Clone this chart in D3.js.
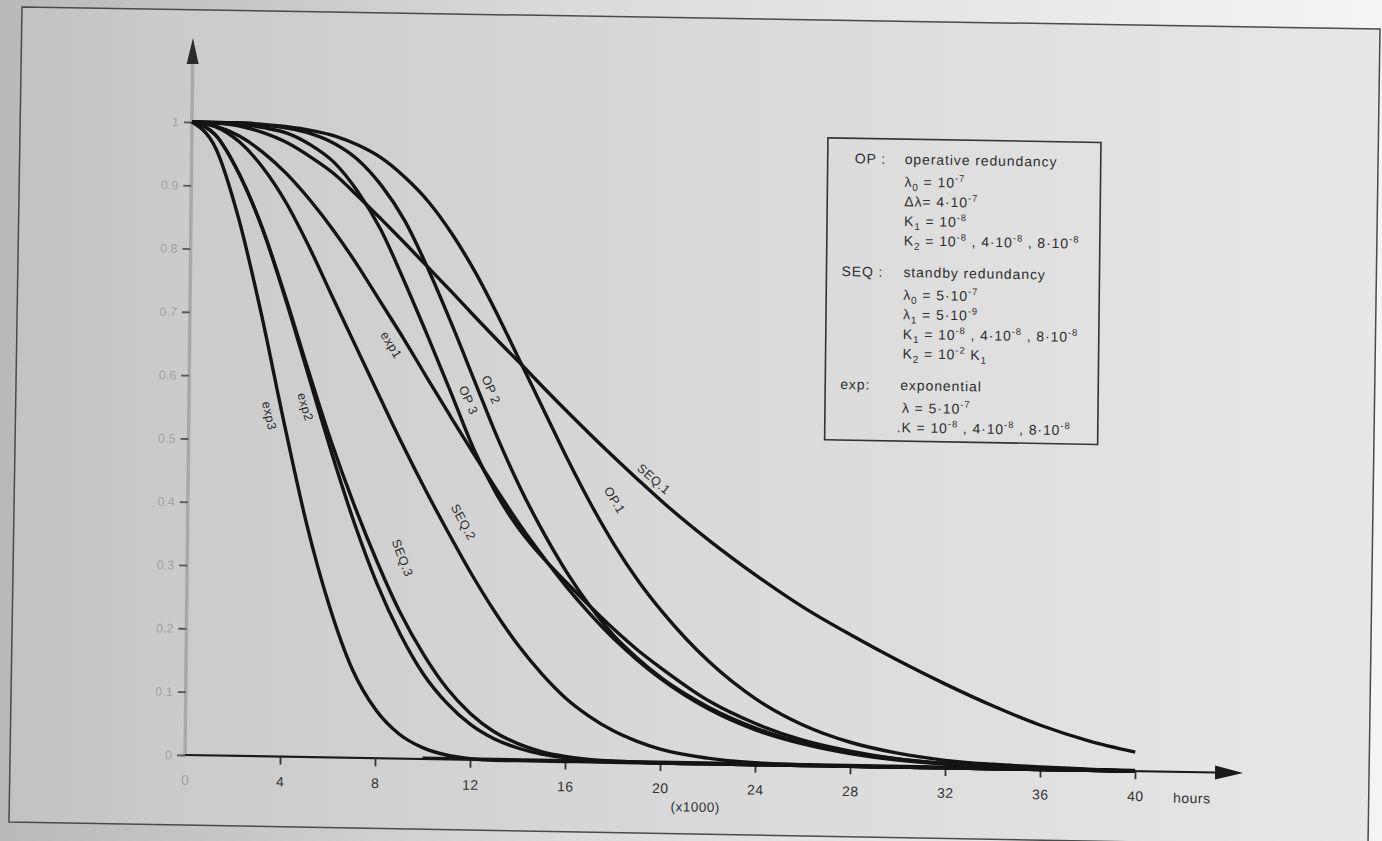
<!DOCTYPE html>
<html lang="en">
<head>
<meta charset="UTF-8">
<title>Reliability R(t) - OP / SEQ / exp</title>
<script src="https://d3js.org/d3.v7.min.js"></script>
<style>
  body { margin: 0; background: #e4e4e4; }
  svg { display: block; font-family: "Liberation Sans", Arial, sans-serif; }
</style>
</head>
<body>
<svg width="1382" height="841"></svg>
<script>
// time in thousands of hours
const hours = [0,1,2,3,4,5,6,7,8,9,10,11,12,13,14,15,16,17,18,19,20,22,24,26,28,30,32,34,36,38,40];

// reliability at each time above
const rExp1 = [1,0.994,0.979,0.954,0.921,0.88,0.833,0.78,0.722,0.664,0.603,0.543,0.484,0.427,0.372,0.322,0.275,0.233,0.195,0.162,0.133,0.087,0.055,0.034,0.02,0.011,0.006,0.003,0.002,0.001,0];
const rExp2 = [1,0.98,0.92,0.835,0.725,0.605,0.485,0.373,0.276,0.197,0.134,0.089,0.056,0.034,0.02,0.011,0.006,0.003,0.001,0,0,0,0,0,0,0,0,0,0,0,0];
const rExp3 = [1,0.96,0.85,0.70,0.53,0.37,0.24,0.14,0.077,0.039,0.018,0.007,0.002,0,0,0,0,0,0,0,0,0,0,0,0,0,0,0,0,0,0];
const rOp1  = [1,1,1,0.998,0.995,0.99,0.982,0.968,0.948,0.918,0.88,0.83,0.77,0.70,0.625,0.55,0.475,0.405,0.342,0.287,0.24,0.162,0.104,0.064,0.038,0.022,0.012,0.007,0.004,0.002,0];
const rOp2  = [1,1,0.999,0.997,0.993,0.985,0.97,0.945,0.905,0.85,0.775,0.69,0.60,0.51,0.43,0.36,0.298,0.245,0.20,0.165,0.135,0.09,0.058,0.036,0.022,0.013,0.007,0.004,0.002,0.001,0];
const rOp3  = [1,0.999,0.998,0.993,0.985,0.967,0.94,0.895,0.835,0.755,0.67,0.582,0.492,0.42,0.364,0.32,0.282,0.245,0.21,0.178,0.15,0.10,0.065,0.04,0.024,0.013,0.007,0.004,0.002,0.001,0];
const rSeq1 = [1,0.999,0.995,0.985,0.97,0.948,0.922,0.888,0.852,0.815,0.777,0.739,0.70,0.662,0.625,0.587,0.55,0.514,0.479,0.445,0.412,0.352,0.298,0.249,0.207,0.168,0.132,0.099,0.07,0.047,0.03];
const rSeq2 = [1,0.993,0.97,0.93,0.875,0.805,0.727,0.65,0.573,0.497,0.425,0.357,0.292,0.233,0.181,0.137,0.10,0.072,0.05,0.034,0.022,0.009,0.003,0.001,0,0,0,0,0,0,0];
const rSeq3 = [1,0.98,0.92,0.835,0.728,0.612,0.50,0.40,0.31,0.23,0.165,0.112,0.073,0.045,0.027,0.015,0.008,0.004,0.002,0.001,0,0,0,0,0,0,0,0,0,0,0];

const seriesNames  = ["exp1","exp2","exp3","OP.1","OP 2","OP 3","SEQ.1","SEQ.2","SEQ.3"];
const seriesValues = [rExp1, rExp2, rExp3, rOp1, rOp2, rOp3, rSeq1, rSeq2, rSeq3];
// where each curve's name sits (hours x1000, R) and its slant
const labelT     = [8.48, 4.89, 3.38, 17.95, 12.7, 11.75, 19.6, 11.6, 9.05];
const labelR     = [0.653, 0.553, 0.538, 0.414, 0.585, 0.568, 0.448, 0.375, 0.317];
const labelAngle = [58, 73, 77, 58, 66, 66, 40, 61, 68];

const xTicks = [0,4,8,12,16,20,24,28,32,36,40];
const yTicks = [0,0.1,0.2,0.3,0.4,0.5,0.6,0.7,0.8,0.9,1];
const yTickLabels = ["0","0.1","0.2","0.3","0.4","0.5","0.6","0.7","0.8","0.9","1"];

// legend: heading, then the text; _{..} subscript, ^{..} superscript
const legendKeys = ["OP :","","","","","SEQ :","","","","","exp:","",""];
const legendText = [
  "operative redundancy",
  "λ_{0} = 10^{-7}",
  "Δλ= 4·10^{-7}",
  "K_{1} = 10^{-8}",
  "K_{2} = 10^{-8} , 4·10^{-8} , 8·10^{-8}",
  "standby redundancy",
  "λ_{0} = 5·10^{-7}",
  "λ_{1} = 5·10^{-9}",
  "K_{1} = 10^{-8} , 4·10^{-8} , 8·10^{-8}",
  "K_{2} = 10^{-2}  K_{1}",
  "exponential",
  "λ  = 5·10^{-7}",
  ".K  = 10^{-8} , 4·10^{-8} , 8·10^{-8}"
];

const svg = d3.select("svg");
const W = 950, H = 633;

// paper background
const defs = svg.append("defs");
const outside = defs.append("linearGradient").attr("id", "outside");
outside.selectAll("stop")
  .data([["0%", "#b9b9b9"], ["40%", "#dadada"], ["100%", "#f4f4f4"]])
  .join("stop").attr("offset", d => d[0]).attr("stop-color", d => d[1]);
const paper = defs.append("linearGradient").attr("id", "paper");
paper.selectAll("stop")
  .data([["0%", "#c2c2c2"], ["12%", "#cbcbcb"], ["50%", "#d9d9d9"], ["100%", "#e7e7e7"]])
  .join("stop").attr("offset", d => d[0]).attr("stop-color", d => d[1]);

svg.append("rect").attr("width", 1382).attr("height", 841).attr("fill", "url(#outside)");
svg.append("polygon")
  .attr("points", "22,7 1380,29 1368,846 9,822")
  .attr("fill", "url(#paper)")
  .attr("stroke", "#4a4a4a")
  .attr("stroke-width", 1.5);

// the printed page sits slightly askew
const g = svg.append("g").attr("transform", "matrix(1,0.017,-0.011,1,192,122)");

const x = d3.scaleLinear().domain([0, 40]).range([0, W]);
const y = d3.scaleLinear().domain([0, 1]).range([H, 0]);

// y axis: pale line with dark arrow
g.append("line")
  .attr("x1", 0).attr("y1", H).attr("x2", 0).attr("y2", -64)
  .attr("stroke", "#a9a9a9").attr("stroke-width", 3.5);
g.append("path")
  .attr("d", "M0,-84 L-6,-58 L6,-58 Z")
  .attr("fill", "#2a2a2a");

const yAxis = g.append("g")
  .call(d3.axisLeft(y).tickValues(yTicks).tickSize(8).tickPadding(5)
    .tickFormat((d, i) => yTickLabels[i]));
yAxis.select(".domain").remove();
yAxis.selectAll(".tick line").attr("stroke", "#555").attr("stroke-width", 1.8);
yAxis.selectAll(".tick text")
  .attr("fill", "#a2a2a2").attr("font-size", 12.5)
  .attr("font-family", "Liberation Sans, Arial, sans-serif");

// x axis: black line with arrow
g.append("line")
  .attr("x1", 0).attr("y1", H).attr("x2", W + 80).attr("y2", H)
  .attr("stroke", "#1a1a1a").attr("stroke-width", 2.2);
g.append("line")
  .attr("x1", x(10)).attr("y1", H - 1).attr("x2", W).attr("y2", H - 1)
  .attr("stroke", "#161616").attr("stroke-width", 3);
g.append("path")
  .attr("d", `M${W + 108},${H} L${W + 80},${H - 7} L${W + 80},${H + 7} Z`)
  .attr("fill", "#1a1a1a");

const xAxis = g.append("g")
  .attr("transform", `translate(0,${H})`)
  .call(d3.axisBottom(x).tickValues(xTicks).tickSize(8).tickPadding(12));
xAxis.select(".domain").remove();
xAxis.selectAll(".tick line").attr("stroke", "#333").attr("stroke-width", 1.8)
  .filter(d => d === 0).remove();
xAxis.selectAll(".tick text")
  .attr("fill", d => d === 0 ? "#a2a2a2" : "#333")
  .attr("font-size", 14).attr("letter-spacing", 0.4)
  .attr("font-family", "Liberation Sans, Arial, sans-serif");

g.append("text")
  .attr("x", x(21.5)).attr("y", H + 48)
  .attr("text-anchor", "middle")
  .attr("font-size", 13.5).attr("letter-spacing", 0.5).attr("fill", "#333")
  .text("(x1000)");
g.append("text")
  .attr("x", x(42.4)).attr("y", H + 31)
  .attr("text-anchor", "middle")
  .attr("font-size", 14).attr("letter-spacing", 0.5).attr("fill", "#333")
  .text("hours");

// curves
const line = d3.line()
  .x((d, i) => x(hours[i]))
  .y(d => y(d))
  .curve(d3.curveMonotoneX);

g.append("g").selectAll("path")
  .data(seriesValues)
  .join("path")
  .attr("d", line)
  .attr("fill", "none")
  .attr("stroke", "#141414")
  .attr("stroke-width", 3.4)
  .attr("stroke-linejoin", "round");

// curve names
g.append("g").selectAll("text")
  .data(seriesNames)
  .join("text")
  .attr("transform", (d, i) => `translate(${x(labelT[i])},${y(labelR[i])}) rotate(${labelAngle[i]})`)
  .attr("text-anchor", "middle")
  .attr("dominant-baseline", "central")
  .attr("font-size", 12.5)
  .attr("letter-spacing", 0.4)
  .attr("fill", "#2c2c2c")
  .text(d => d);

// legend box
const legend = g.append("g").attr("transform", "translate(636,5)");
legend.append("rect")
  .attr("width", 273).attr("height", 302)
  .attr("fill", "none").attr("stroke", "#333").attr("stroke-width", 1.6);

let group = -1;
legendText.forEach((txt, i) => {
  const isHead = legendKeys[i] !== "";
  if (isHead) group++;
  const yy = 25 + i * 19.6 + group * 15 + (isHead ? 0 : 3);
  if (isHead) {
    legend.append("text")
      .attr("x", legendKeys[i] === "OP :" ? 27 : 15).attr("y", yy)
      .attr("font-size", 14).attr("letter-spacing", 0.9).attr("fill", "#2e2e2e")
      .text(legendKeys[i]);
  }
  const t = legend.append("text")
    .attr("x", txt.startsWith(".") ? 72 : (isHead && i === 10 ? 75 : 77)).attr("y", yy)
    .attr("font-size", 14).attr("letter-spacing", 0.9).attr("fill", "#2e2e2e");
  // split into plain / sub / sup pieces
  const parts = txt.split(/([_^]\{[^}]*\})/).filter(s => s.length);
  let shift = 0;
  parts.forEach(p => {
    let want = 0, s = p, size = 14;
    if (p.startsWith("_{")) { want = 4; s = p.slice(2, -1); size = 10; }
    if (p.startsWith("^{")) { want = -6; s = p.slice(2, -1); size = 9.5; }
    t.append("tspan")
      .attr("dy", want - shift)
      .attr("font-size", size)
      .text(s);
    shift = want;
  });
});
</script>
</body>
</html>
